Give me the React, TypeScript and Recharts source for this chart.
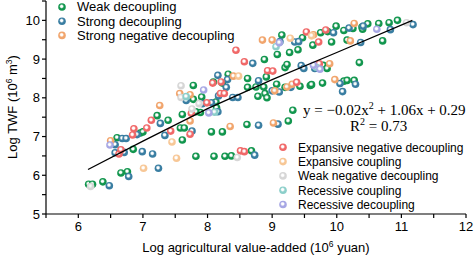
import React from "react";
import { ScatterChart, Scatter, XAxis, YAxis } from "recharts";

// [log agricultural value-added, log TWF]
const weakDecoupling = [
  [6.16, 5.77], [6.22, 5.77], [6.38, 5.83], [6.66, 6.06], [6.76, 6.09], [7.82, 6.49], [8.1, 6.49],
  [8.27, 6.49], [8.37, 6.5], [8.68, 6.63], [6.6, 6.97], [6.85, 6.67], [6.96, 7.09], [7.0, 7.12],
  [7.22, 7.54], [7.39, 7.42], [7.61, 7.57], [7.61, 6.91], [7.58, 7.22], [7.64, 7.22], [7.78, 7.96],
  [7.78, 8.32], [7.89, 7.62], [8.06, 7.12], [8.23, 7.12], [7.82, 7.64], [7.91, 8.02], [8.13, 7.89],
  [8.14, 7.74], [8.23, 8.38], [8.09, 8.41], [8.32, 8.61], [8.62, 8.5], [8.62, 8.27], [8.75, 8.28],
  [8.87, 8.28], [8.78, 8.04], [8.89, 8.11], [8.92, 8.0], [8.91, 8.54], [8.61, 7.31], [9.25, 7.4],
  [9.32, 7.68], [8.88, 8.99], [9.08, 9.12], [9.27, 9.17], [9.4, 9.24], [9.63, 9.36], [9.2, 8.78],
  [9.23, 8.86], [9.15, 9.62], [9.47, 9.55], [9.79, 8.84], [9.59, 8.32], [9.78, 8.38], [9.43, 8.3],
  [9.2, 8.27], [9.07, 8.35], [9.85, 8.76], [9.92, 9.44], [10.16, 9.49], [10.71, 9.47], [10.35, 8.91],
  [10.11, 8.43], [10.16, 8.45], [10.27, 8.45], [9.61, 8.34], [9.75, 9.68], [9.86, 9.71], [9.99, 9.85],
  [10.11, 9.74], [10.25, 9.79], [10.39, 9.83], [10.4, 9.77], [10.48, 9.91], [10.65, 9.92],
  [10.81, 9.94], [10.94, 10.0],
];

const strongDecoupling = [
  [6.48, 5.73], [6.78, 5.97], [7.24, 6.18], [6.99, 6.61], [7.15, 6.55], [6.57, 6.58], [6.71, 6.59],
  [6.57, 6.79], [6.68, 6.95], [6.74, 6.95], [6.91, 7.05], [7.27, 7.34], [7.34, 7.03], [7.67, 7.93],
  [7.76, 7.14], [7.92, 7.85], [8.06, 7.87], [8.16, 7.64], [8.17, 8.05], [8.39, 8.01], [8.47, 8.01],
  [8.16, 8.58], [8.31, 8.47], [8.29, 8.27], [8.7, 8.89], [8.79, 7.29], [9.09, 7.32], [8.73, 6.52],
  [9.0, 8.18], [9.11, 8.15], [8.79, 8.44], [9.29, 8.27], [9.45, 8.83], [9.66, 8.76], [9.49, 8.76],
  [9.12, 9.45], [9.35, 9.44], [9.41, 9.45], [9.95, 9.68], [10.19, 9.8], [10.37, 9.43], [10.05, 8.37],
  [10.29, 8.35], [10.09, 8.16], [10.41, 9.85], [10.83, 9.76], [11.18, 9.89],
];

const strongNegative = [
  [6.5, 6.89], [7.26, 7.8], [7.57, 8.11], [7.73, 8.08], [7.73, 7.4], [8.35, 7.26], [9.02, 7.35],
  [8.4, 8.56], [8.85, 9.49], [9.0, 9.49], [9.23, 8.28], [9.31, 8.35], [9.04, 8.18], [9.89, 8.88],
  [9.97, 8.47], [9.64, 9.63], [10.21, 9.47], [10.27, 9.92],
];

const expansiveNegative = [
  [6.63, 6.55], [6.66, 6.66], [6.86, 7.2], [6.84, 7.04], [7.06, 7.22], [7.13, 7.42], [7.43, 7.14],
  [7.73, 7.06], [7.75, 7.6], [8.08, 8.38], [8.21, 8.41], [8.2, 8.11], [8.26, 8.11], [7.99, 7.87],
  [8.44, 9.23], [8.57, 8.93], [8.93, 8.7], [9.01, 8.69], [9.38, 8.4], [9.53, 9.7], [9.72, 9.44],
  [9.83, 9.75], [9.73, 8.88], [8.51, 6.63], [8.57, 6.61],
];

const expansiveCoupling = [
  [7.01, 6.18], [7.52, 6.44], [7.45, 6.86], [8.48, 8.56], [9.28, 9.54], [9.61, 9.6],
];

const weakNegative = [
  [6.19, 5.71], [8.46, 6.46], [7.59, 8.31], [7.76, 7.71], [7.87, 7.85], [11.08, 9.94], [7.59, 8.01],
];

const recessiveCoupling = [[9.06, 9.32], [9.68, 8.79], [8.11, 7.63], [7.67, 8.03]];

const recessiveDecoupling = [
  [6.49, 6.78], [7.94, 8.2], [8.02, 7.61], [9.11, 9.42], [9.64, 8.84], [10.62, 9.77], [9.74, 8.74],
];

// fitted curve
const fitX = [6.15, 7, 8, 9, 10, 11.17];
const fitY = [6.15, 6.88, 7.72, 8.47, 9.17, 10.0];

const xTicks = [5.5, 6, 6.5, 7, 7.5, 8, 8.5, 9, 9.5, 10, 10.5, 11, 11.5, 12];
const yTicks = [5, 5.5, 6, 6.5, 7, 7.5, 8, 8.5, 9, 9.5, 10, 10.5];

const series = [
  { id: "wd", name: "Weak decoupling", color: "#12964e", data: weakDecoupling },
  { id: "sd", name: "Strong decoupling", color: "#3a7ea2", data: strongDecoupling },
  { id: "snd", name: "Strong negative decoupling", color: "#f1a56d", data: strongNegative },
  { id: "end", name: "Expansive negative decoupling", color: "#f06868", data: expansiveNegative },
  { id: "ec", name: "Expansive coupling", color: "#f7c796", data: expansiveCoupling },
  { id: "wnd", name: "Weak negative decoupling", color: "#d6d6d6", data: weakNegative },
  { id: "rc", name: "Recessive coupling", color: "#8ccfca", data: recessiveCoupling },
  { id: "rd", name: "Recessive decoupling", color: "#a7a7e4", data: recessiveDecoupling },
];

const toPts = (arr: number[][]) => arr.map(([x, y]) => ({ x, y }));
const fitData = fitX.map((x, i) => ({ x, y: fitY[i] }));

const SANS = "Arial, 'Liberation Sans', sans-serif";
const SERIF = "'Times New Roman', 'Liberation Serif', serif";

function gradient(prefix: string) {
  return series.map((s) => (
    <radialGradient key={s.id} id={prefix + s.id} cx="0.45" cy="0.42" r="0.6">
      <stop offset="0%" stopColor="#ffffff" />
      <stop offset="22%" stopColor="#ffffff" stopOpacity={0.9} />
      <stop offset="52%" stopColor={s.color} />
      <stop offset="100%" stopColor={s.color} />
    </radialGradient>
  ));
}

const ball = (id: string) => (p: any) =>
  <circle cx={p.cx} cy={p.cy} r={3.8} fill={`url(#ball-${id})`} />;

const XTick = ({ x, y, payload }: any) =>
  Number.isInteger(payload.value) ? (
    <text x={x} y={y} dy={11} textAnchor="middle" fontSize={13} fontFamily={SANS} fill="#000">
      {payload.value}
    </text>
  ) : null;

const YTick = ({ x, y, payload }: any) =>
  Number.isInteger(payload.value) ? (
    <text x={x} y={y} dy={4.5} textAnchor="end" fontSize={13} fontFamily={SANS} fill="#000">
      {payload.value}
    </text>
  ) : null;

function LegendRows({ items, x, y, step, size }: { items: typeof series; x: number; y: number; step: number; size: number }) {
  return (
    <g>
      {items.map((s, i) => (
        <g key={s.id}>
          <circle cx={x} cy={y + i * step} r={3.8} fill={`url(#lg-${s.id})`} />
          <text x={x + 15} y={y + i * step + 4.4} fontSize={size} fontFamily={SANS} fill="#000">
            {s.name}
          </text>
        </g>
      ))}
    </g>
  );
}

export default function App() {
  return (
    <div style={{ position: "absolute", left: 0, top: 0, width: 475, height: 258, background: "#fff" }}>
      <ScatterChart width={475} height={258} margin={{ top: 1, right: 9, bottom: 14, left: 0 }}>
        <defs>{gradient("ball-")}</defs>
        <XAxis
          type="number"
          dataKey="x"
          domain={[5.5, 12]}
          ticks={xTicks}
          interval={0}
          height={30}
          tick={<XTick />}
          tickSize={4}
          stroke="#000"
          strokeWidth={1.2}
        />
        <YAxis
          type="number"
          dataKey="y"
          domain={[5, 10.5]}
          ticks={yTicks}
          interval={0}
          width={46}
          tick={<YTick />}
          tickSize={4}
          stroke="#000"
          strokeWidth={1.2}
        />
        {series.map((s) => (
          <Scatter
            key={s.id}
            name={s.name}
            data={toPts(s.data)}
            shape={ball(s.id)}
            isAnimationActive={false}
          />
        ))}
        <Scatter
          data={fitData}
          line={{ stroke: "#000", strokeWidth: 1.3 }}
          lineType="joint"
          shape={() => <g />}
          isAnimationActive={false}
        />
      </ScatterChart>
      <svg
        width={475}
        height={258}
        style={{ position: "absolute", left: 0, top: 0, pointerEvents: "none" }}
      >
        <defs>{gradient("lg-")}</defs>
        <LegendRows items={series.slice(0, 3)} x={62} y={7} step={14.2} size={13} />
        <LegendRows items={series.slice(3)} x={283} y={147.3} step={14.3} size={12} />
        <text x={303} y={114.5} fontSize={15} fontFamily={SERIF} fill="#000">
          y = −0.02x<tspan dy={-6} fontSize={10}>2</tspan>
          <tspan dy={6}> + 1.06x + 0.29</tspan>
        </text>
        <text x={350} y={131} fontSize={15} fontFamily={SERIF} fill="#000">
          R<tspan dy={-6} fontSize={10}>2</tspan>
          <tspan dy={6}> = 0.73</tspan>
        </text>
        <text x={256} y={252} textAnchor="middle" fontSize={13} fontFamily={SANS} fill="#000">
          Log agricultural value-added (10<tspan dy={-5} fontSize={8.5}>6</tspan>
          <tspan dy={5}> yuan)</tspan>
        </text>
        <text
          transform="translate(17,107) rotate(-90)"
          textAnchor="middle"
          fontSize={13}
          fontFamily={SANS}
          fill="#000"
        >
          Log TWF (10<tspan dy={-5} fontSize={8.5}>6</tspan>
          <tspan dy={5}> m</tspan>
          <tspan dy={-5} fontSize={8.5}>3</tspan>
          <tspan dy={5}>)</tspan>
        </text>
      </svg>
    </div>
  );
}
